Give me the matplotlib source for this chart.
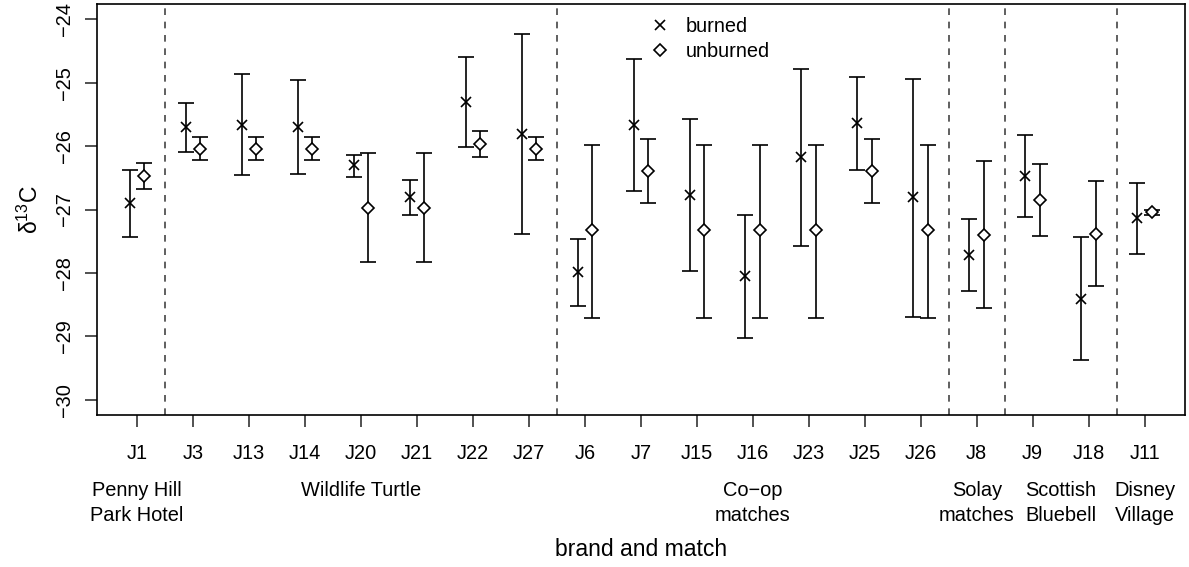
"""
δ13C сожжённых и несожжённых спичек по брендам.
"""

import numpy as np
import matplotlib.pyplot as plt
from matplotlib.lines import Line2D

plt.rcParams['font.family'] = ['Liberation Sans', 'DejaVu Sans']
plt.rcParams['mathtext.fontset'] = 'custom'
plt.rcParams['mathtext.rm'] = 'Liberation Sans'

# ─── Данные ───────────────────────────────────────────────────────────────────
matches = ['J1', 'J3', 'J13', 'J14', 'J20', 'J21', 'J22', 'J27',
           'J6', 'J7', 'J15', 'J16', 'J23', 'J25', 'J26',
           'J8', 'J9', 'J18', 'J11']

burned = [-26.89, -25.70, -25.67, -25.70, -26.30, -26.81, -25.30, -25.81,
          -27.99, -25.67, -26.77, -28.05, -26.18, -25.64, -26.81,
          -27.72, -26.47, -28.41, -27.14]
burned_hi = [-26.37, -25.32, -24.87, -24.96, -26.14, -26.53, -24.59, -24.24,
             -27.47, -24.62, -25.57, -27.08, -24.79, -24.91, -24.94,
             -27.15, -25.83, -27.44, -26.58]
burned_lo = [-27.44, -26.09, -26.46, -26.44, -26.48, -27.09, -26.01, -27.38,
             -28.52, -26.71, -27.97, -29.02, -27.57, -26.38, -28.69,
             -28.29, -27.12, -29.38, -27.70]

unburned = [-26.47, -26.04, -26.04, -26.04, -26.97, -26.97, -25.97, -26.04,
            -27.33, -26.39, -27.33, -27.33, -27.33, -26.39, -27.33,
            -27.40, -26.85, -27.38, -27.04]
unburned_hi = [-26.27, -25.86, -25.86, -25.86, -26.11, -26.11, -25.76, -25.86,
               -25.99, -25.89, -25.99, -25.99, -25.99, -25.89, -25.99,
               -26.23, -26.28, -26.55, -27.00]
unburned_lo = [-26.68, -26.22, -26.22, -26.22, -27.82, -27.82, -26.18, -26.22,
               -28.71, -26.89, -28.71, -28.71, -28.71, -26.89, -28.71,
               -28.56, -27.41, -28.21, -27.08]

brands = ['Penny Hill\nPark Hotel', 'Wildlife Turtle', 'Co\u2212op\nmatches',
          'Solay\nmatches', 'Scottish\nBluebell', 'Disney\nVillage']
brand_sizes = [1, 7, 7, 1, 2, 1]

# ─── Построение ───────────────────────────────────────────────────────────────
x = np.arange(1, len(matches) + 1)
dx = 0.13

b = np.array(burned)
u = np.array(unburned)
b_err = [b - np.array(burned_lo), np.array(burned_hi) - b]
u_err = [u - np.array(unburned_lo), np.array(unburned_hi) - u]

fig = plt.figure(figsize=(11.89, 5.67), dpi=100)
ax = fig.add_axes([0.0813, 0.268, 0.9153, 0.725])

ax.errorbar(x - dx, b, yerr=b_err, fmt='x', color='black', ms=6.5, mew=1.2,
            elinewidth=1.2, capsize=6, capthick=1.2)
ax.errorbar(x + dx, u, yerr=u_err, fmt='D', color='black', mfc='white',
            ms=6.3, mew=1.2, elinewidth=1.2, capsize=6, capthick=1.2)

# границы между брендами
edges = np.cumsum(brand_sizes)[:-1] + 0.5
for e in edges:
    ax.axvline(e, color='#444444', linestyle=(0, (4, 4)), linewidth=1.2)

# подписи брендов
starts = np.concatenate([[1], np.cumsum(brand_sizes)[:-1] + 1])
for name, s, n in zip(brands, starts, brand_sizes):
    ax.text(s + (n - 1) / 2, -0.160, name, transform=ax.get_xaxis_transform(),
            ha='center', va='top', fontsize=14.4, linespacing=1.4)

ax.set_xlim(0.28, 19.72)
ax.set_ylim(-30.24, -23.76)
ax.set_xticks(x)
ax.set_xticklabels(matches)
ax.set_yticks(np.arange(-30, -23, 1))
ax.tick_params(axis='both', labelsize=14.4, length=8.6, width=1.2,
               color='#333333')
ax.tick_params(axis='x', pad=12)
ax.tick_params(axis='y', pad=8)
for lab in ax.get_yticklabels():
    lab.set_rotation(90)
    lab.set_va('center')

ax.set_xlabel('brand and match', fontsize=16.5)
ax.xaxis.set_label_coords(0.5, -0.298)
ax.set_ylabel('\u03b4$^{13}$C', fontsize=16.5)
ax.yaxis.label.set_va('center')
ax.yaxis.set_label_coords(-0.0613, 0.5)

for sp in ax.spines.values():
    sp.set_linewidth(1.2)

handles = [Line2D([], [], ls='none', marker='x', color='black', ms=6.5, mew=1.2),
           Line2D([], [], ls='none', marker='D', color='black', mfc='white',
                  ms=6.3, mew=1.2)]
ax.legend(handles, ['burned', 'unburned'], loc='upper left', frameon=False,
          fontsize=14.4, handlelength=1.0, handletextpad=0.8,
          labelspacing=0.27, borderaxespad=0, borderpad=0,
          bbox_to_anchor=(0.5084, 0.968))

plt.savefig('out.png', dpi=100)
